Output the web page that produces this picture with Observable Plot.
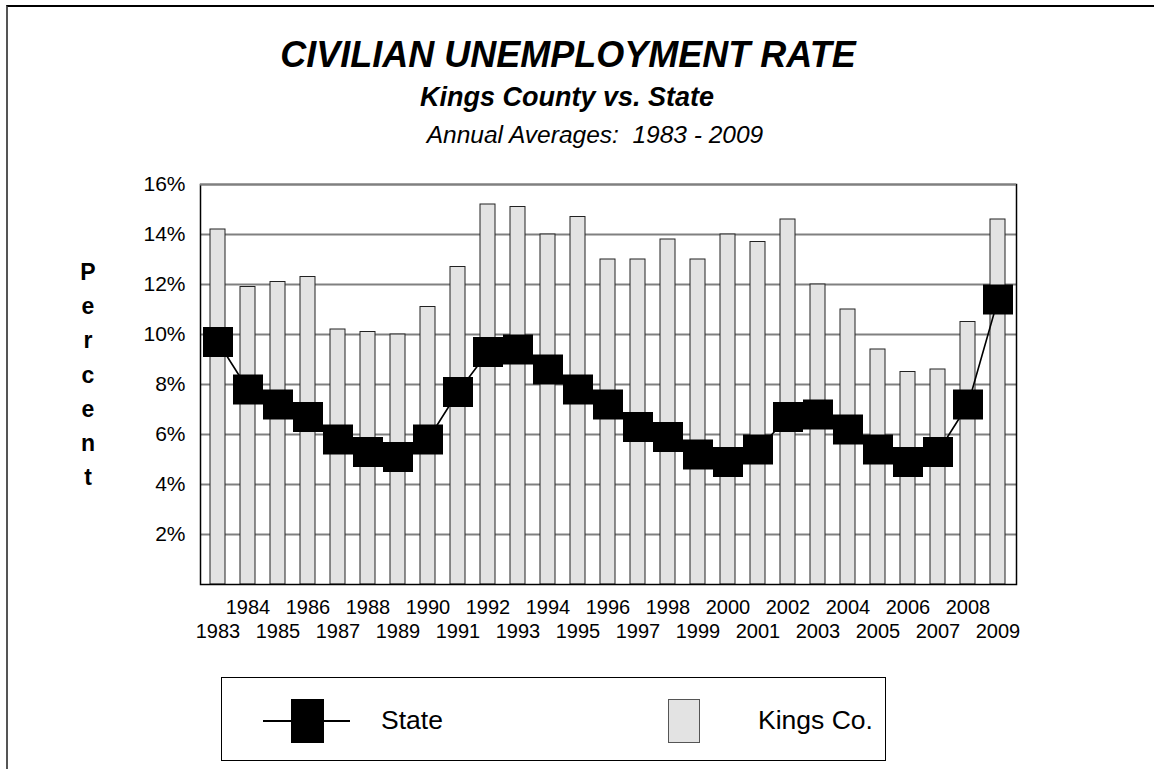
<!DOCTYPE html>
<html>
<head>
<meta charset="utf-8">
<script src="https://cdn.jsdelivr.net/npm/d3@7"></script>
<script src="https://cdn.jsdelivr.net/npm/@observablehq/plot@0.6"></script>
<style>
  html, body { margin: 0; padding: 0; background: #fff; }
  body { font-family: "Liberation Sans", Arial, Helvetica, sans-serif; color: #000; }
  #page { position: relative; width: 1154px; height: 769px; overflow: hidden; }
  #border { position: absolute; left: 6px; top: 5px; width: 1200px; height: 800px;
            border-top: 2px solid #000; border-left: 2px solid #555; }
  .t { position: absolute; width: 1000px; text-align: center; line-height: 1; white-space: pre; }
  #title { font-size: 36px; font-weight: bold; font-style: italic; }
  #subtitle { font-size: 27px; font-weight: bold; font-style: italic; }
  #period { font-size: 24.5px; font-style: italic; }
  #ylabel { position: absolute; left: 68px; width: 40px; text-align: center;
            font-size: 23px; font-weight: bold; line-height: 34.2px; }
  #chart { position: absolute; left: 0; top: 150px; }
  #legend { position: absolute; left: 221px; top: 677px; width: 665px; height: 84px;
            border: 1px solid #000; box-sizing: border-box; }
  .lg { position: absolute; }
  .lgtext { position: absolute; font-size: 26.5px; line-height: 1; }
</style>
</head>
<body>
<div id="page">
  <div id="border"></div>
  <div id="title" class="t"></div>
  <div id="subtitle" class="t"></div>
  <div id="period" class="t"></div>
  <div id="ylabel"></div>
  <div id="chart"></div>
  <div id="legend">
    <div class="lg" style="left:41px; top:42px; width:87px; height:2px; background:#000;"></div>
    <div class="lg" style="left:69px; top:21px; width:33px; height:44px; background:#000;"></div>
    <div class="lgtext" id="lgState" style="left:159px; top:29px;"></div>
    <div class="lg" style="left:446px; top:21px; width:32px; height:44px; background:#e3e3e3; border:1px solid #555; box-sizing:border-box;"></div>
    <div class="lgtext" id="lgKings" style="left:536px; top:29px;"></div>
  </div>
</div>
<script>
// Annual average unemployment rates (%), 1983-2009
const years = [1983, 1984, 1985, 1986, 1987, 1988, 1989, 1990, 1991, 1992, 1993, 1994, 1995, 1996,
               1997, 1998, 1999, 2000, 2001, 2002, 2003, 2004, 2005, 2006, 2007, 2008, 2009];
const kingsCo = [14.2, 11.9, 12.1, 12.3, 10.2, 10.1, 10.0, 11.1, 12.7, 15.2, 15.1, 14.0, 14.7, 13.0,
                 13.0, 13.8, 13.0, 14.0, 13.7, 14.6, 12.0, 11.0, 9.4, 8.5, 8.6, 10.5, 14.6];
const stateRate = [9.7, 7.8, 7.2, 6.7, 5.8, 5.3, 5.1, 5.8, 7.7, 9.3, 9.4, 8.6, 7.8, 7.2,
                   6.3, 5.9, 5.2, 4.9, 5.4, 6.7, 6.8, 6.2, 5.4, 4.9, 5.3, 7.2, 11.4];
const yTicks = [2, 4, 6, 8, 10, 12, 14, 16];
const gridLines = [2, 4, 6, 8, 10, 12, 14];

const titleText = "CIVILIAN UNEMPLOYMENT RATE";
const subtitleText = "Kings County vs. State";
const periodText = "Annual Averages:  1983 - 2009";
const yLabelText = "Percent";
const seriesNames = ["State", "Kings Co."];

const rows = years.map((year, i) => ({year, kings: kingsCo[i], state: stateRate[i]}));
const evenYears = years.filter(y => y % 2 === 0);
const oddYears = years.filter(y => y % 2 === 1);

function place(id, text, cx, cy, fs) {
  const el = document.getElementById(id);
  el.textContent = text;
  el.style.left = (cx - 500) + "px";
  el.style.top = (cy - 0.49 * fs) + "px";
}
place("title", titleText, 568, 55, 36);
place("subtitle", subtitleText, 567, 97, 27);
place("period", periodText, 595, 135, 24.5);

const yl = document.getElementById("ylabel");
yl.innerHTML = yLabelText.split("").join("<br>");
yl.style.top = (272 - 17) + "px";

document.getElementById("lgState").textContent = seriesNames[0];
document.getElementById("lgKings").textContent = seriesNames[1];

const chart = Plot.plot({
  width: 1154,
  height: 500,
  marginLeft: 200,
  marginRight: 138,
  marginTop: 34,
  marginBottom: 66,
  style: {fontFamily: "'Liberation Sans', Arial, sans-serif", fontSize: "20px", color: "#000", background: "transparent"},
  x: {type: "band", domain: years, paddingInner: 0.49, paddingOuter: 0.245, axis: null},
  y: {domain: [0, 16], axis: null},
  marks: [
    Plot.ruleY(gridLines, {stroke: "#808080", strokeWidth: 2}),
    Plot.barY(rows, {x: "year", y: "kings", fill: "#e3e3e3", stroke: "#222", strokeWidth: 1}),
    Plot.line(rows, {x: "year", y: "state", stroke: "#000", strokeWidth: 1.6}),
    Plot.dot(rows, {x: "year", y: "state", symbol: "square", r: 16.93, fill: "#000", stroke: "none"}),
    Plot.frame({stroke: "#000", strokeWidth: 1.5}),
    Plot.ruleY([16], {stroke: "#808080", strokeWidth: 2}),
    Plot.axisY(yTicks, {anchor: "left", tickSize: 0, tickPadding: 15, fontSize: 21,
                        tickFormat: d => d + "%", label: null}),
    Plot.text(evenYears, {x: d => d, text: d => String(d), frameAnchor: "bottom", lineAnchor: "top", dy: 15, fontSize: 20}),
    Plot.text(oddYears, {x: d => d, text: d => String(d), frameAnchor: "bottom", lineAnchor: "top", dy: 39, fontSize: 20})
  ]
});
document.getElementById("chart").appendChild(chart);
</script>
</body>
</html>
